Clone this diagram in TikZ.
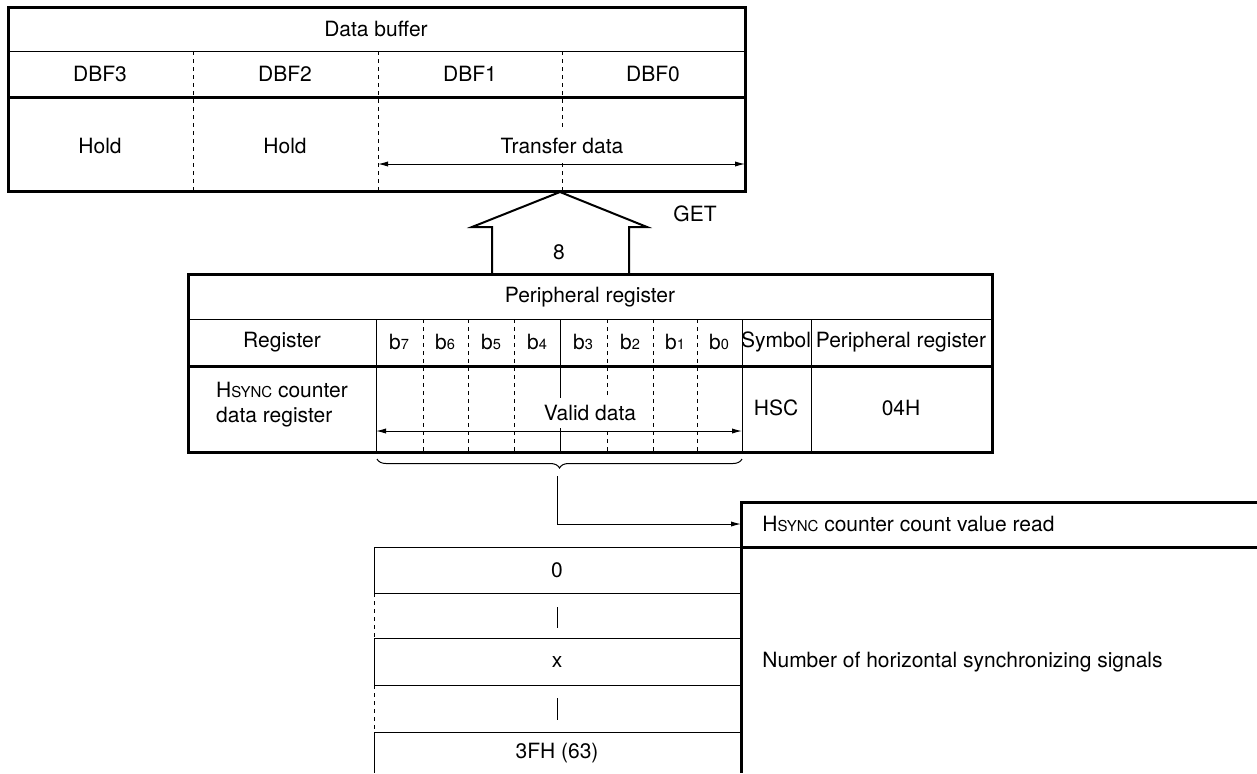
\documentclass[tikz,border=0pt]{standalone}
\usepackage{fontspec}
\setmainfont{TeX Gyre Heros}
\usetikzlibrary{arrows.meta,decorations.pathreplacing}
\newcommand\HsyncTxt{H{\fontsize{7.5}{8}\selectfont SYNC}}
\newcommand\bitlbl[1]{b{\fontsize{7.3}{8}\selectfont #1}}
\tikzset{
  thickline/.style={line width=1.5pt},
  thinline/.style={line width=0.5pt},
  dashline/.style={line width=0.5pt, dash pattern=on 2.2pt off 1.8pt},
  lbl/.style={inner sep=1pt, font=\fontsize{10.5}{12.5}\selectfont},
  lblw/.style={lbl, fill=white, inner ysep=3.5pt},
  arr/.style={-{Latex[length=5pt,width=2.6pt]}, line width=0.5pt},
  darr/.style={{Latex[length=5pt,width=2.6pt]}-{Latex[length=5pt,width=2.6pt]}, line width=0.5pt},
  getarrow/.style={line width=1pt, line join=miter},
}
\begin{document}
\begin{tikzpicture}[x=0.5pt,y=-0.5pt]
\useasboundingbox (0,0) rectangle (1257,773);

% ---------- Data buffer ----------
\draw[thinline] (8,51) -- (745,51);
\foreach \x in {193,378,562} \draw[dashline] (\x,51) -- (\x,191);
\draw[thickline] (8,97) -- (745,97);
\draw[thickline] (8,7) rectangle (745,191);
\node[lbl] (db) at (376,29) {Data buffer};
\node[lbl] (dbf3) at (100,74) {DBF3};
\node[lbl] (dbf2) at (285,74) {DBF2};
\node[lbl] (dbf1) at (470,74) {DBF1};
\node[lbl] (dbf0) at (653,74) {DBF0};
\node[lbl] (hold3) at (100,146) {Hold};
\node[lbl] (hold2) at (285,146) {Hold};
\coordinate (tdl) at (378,164);
\coordinate (tdr) at (745,164);
\draw[darr] (tdl) -- (tdr);
\node[lblw] (td) at (562,146) {Transfer data};

% ---------- GET arrow ----------
\draw[getarrow] (492,274) -- (492,227) -- (472,227) -- (560,192) -- (647,227) -- (629,227) -- (629,274);
\node[lbl] (get) at (695,214) {GET};
\node[lbl] (eight) at (559,252) {8};

% ---------- Peripheral register ----------
\draw[thinline] (188,319) -- (992,319);
\foreach \x in {376,560,742,811} \draw[thinline] (\x,319) -- (\x,452);
\foreach \x in {423,468,514,607,653,697} \draw[dashline] (\x,319) -- (\x,452);
\draw[thickline] (188,366) -- (992,366);
\draw[thickline] (188,274) rectangle (992,452);
\node[lbl] (prt) at (590,297) {Peripheral register};
\node[lbl] (reg) at (282,342) {Register};
\node[lbl] (b7) at (399,342) {\bitlbl{7}};
\node[lbl] (b6) at (445,342) {\bitlbl{6}};
\node[lbl] (b5) at (491,342) {\bitlbl{5}};
\node[lbl] (b4) at (537,342) {\bitlbl{4}};
\node[lbl] (b3) at (583,342) {\bitlbl{3}};
\node[lbl] (b2) at (630,342) {\bitlbl{2}};
\node[lbl] (b1) at (675,342) {\bitlbl{1}};
\node[lbl] (b0) at (719,342) {\bitlbl{0}};
\node[lbl] (sym) at (776,342) {Symbol};
\node[lbl] (prh) at (901,342) {Peripheral register};
\node[lbl, align=left] (hscreg) at (282,405) {\HsyncTxt{} counter\\data register};
\node[lbl] (hsc) at (776,408) {HSC};
\node[lbl] (addr) at (901,408) {04H};
\coordinate (vdl) at (376,431);
\coordinate (vdr) at (742,431);
\draw[darr] (vdl) -- (vdr);
\node[lblw] (vd) at (590,413) {Valid data};

% ---------- brace and read arrow ----------
\draw[thinline, decorate, decoration={brace, mirror, amplitude=4.5pt}] (377,459) -- (742,459);
\coordinate (bt) at (557,476);
\coordinate (hin) at (741,524);
\draw[arr] (bt) |- (hin);

% ---------- value table ----------
\foreach \y in {547,593,638,685,732} \draw[thinline] (374,\y) -- (741,\y);
\draw[thinline] (374,547) -- (374,593);
\draw[dashline] (374,593) -- (374,638);
\draw[thinline] (374,638) -- (374,685);
\draw[dashline] (374,685) -- (374,732);
\draw[thinline] (374,732) -- (374,773);
\node[lbl] (v0) at (557,570) {0};
\draw[thinline] (557,607) -- (557,628);
\node[lbl] (vx) at (557,662) {x};
\draw[thinline] (557,698) -- (557,720);
\node[lbl] (v63) at (557,753) {3FH (63)};

% ---------- right box ----------
\draw[thickline] (1257,502) -- (741,502) -- (741,773);
\draw[thickline] (741,547) -- (1257,547);
\node[lbl, anchor=west] (hread) at (760,524) {\HsyncTxt{} counter count value read};
\node[lbl, anchor=west] (nhs) at (760,662) {Number of horizontal synchronizing signals};
\end{tikzpicture}
\end{document}
